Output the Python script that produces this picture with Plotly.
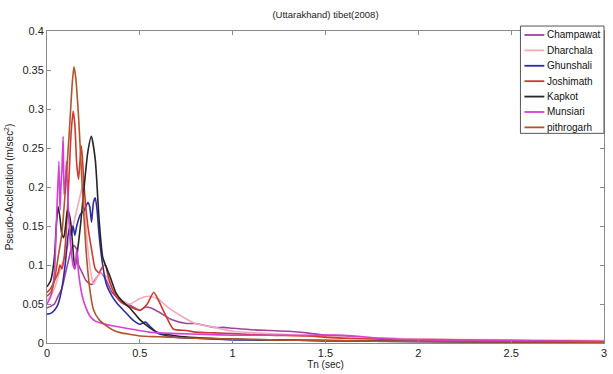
import plotly.graph_objects as go

# ---- data ----
champawat_T = [0, 0.02, 0.04, 0.06, 0.08, 0.1, 0.12, 0.13, 0.145, 0.16, 0.17, 0.19, 0.21, 0.24, 0.27, 0.29, 0.32, 0.35, 0.38, 0.42, 0.45, 0.5, 0.53, 0.56, 0.6, 0.67, 0.75, 0.8, 0.9, 0.95, 1.0, 1.1, 1.2, 1.3, 1.4, 1.5, 1.6, 1.7, 1.8, 2.0, 2.5, 3.0]
champawat_SA = [0.045, 0.047, 0.05, 0.06, 0.07, 0.09, 0.11, 0.12, 0.125, 0.12, 0.1, 0.09, 0.08, 0.075, 0.085, 0.09, 0.08, 0.065, 0.058, 0.052, 0.048, 0.042, 0.046, 0.045, 0.04, 0.03, 0.025, 0.025, 0.02, 0.02, 0.019, 0.017, 0.016, 0.015, 0.013, 0.01, 0.009, 0.007, 0.006, 0.005, 0.003, 0.002]

dharchala_T = [0, 0.02, 0.04, 0.06, 0.08, 0.1, 0.12, 0.14, 0.16, 0.18, 0.19, 0.2, 0.22, 0.24, 0.25, 0.27, 0.29, 0.32, 0.35, 0.38, 0.42, 0.45, 0.5, 0.55, 0.6, 0.65, 0.72, 0.8, 0.9, 1.0, 1.2, 1.5, 2.0, 2.5, 3.0]
dharchala_SA = [0.055, 0.06, 0.07, 0.085, 0.1, 0.115, 0.13, 0.15, 0.17, 0.19, 0.2, 0.18, 0.12, 0.085, 0.075, 0.085, 0.09, 0.085, 0.07, 0.06, 0.052, 0.05, 0.057, 0.06, 0.056, 0.046, 0.035, 0.025, 0.02, 0.015, 0.012, 0.008, 0.005, 0.004, 0.003]

ghunshali_T = [0, 0.02, 0.04, 0.06, 0.08, 0.1, 0.11, 0.12, 0.13, 0.14, 0.15, 0.16, 0.18, 0.2, 0.22, 0.23, 0.24, 0.25, 0.26, 0.27, 0.28, 0.3, 0.32, 0.35, 0.38, 0.42, 0.46, 0.5, 0.53, 0.56, 0.6, 0.65, 0.7, 0.8, 0.9, 1.0, 1.2, 1.5, 2.0, 2.5, 3.0]
ghunshali_SA = [0.037, 0.038, 0.042, 0.05, 0.07, 0.105, 0.13, 0.148, 0.138, 0.15, 0.138, 0.15, 0.165, 0.17, 0.18, 0.175, 0.155, 0.18, 0.186, 0.17, 0.14, 0.1, 0.075, 0.06, 0.05, 0.04, 0.03, 0.024, 0.027, 0.02, 0.012, 0.009, 0.007, 0.006, 0.005, 0.004, 0.004, 0.003, 0.002, 0.0015, 0.001]

joshimath_T = [0, 0.02, 0.04, 0.06, 0.07, 0.08, 0.09, 0.1, 0.11, 0.12, 0.13, 0.141, 0.15, 0.16, 0.17, 0.184, 0.19, 0.2, 0.22, 0.24, 0.26, 0.28, 0.3, 0.314, 0.33, 0.36, 0.4, 0.45, 0.5, 0.54, 0.575, 0.6, 0.64, 0.68, 0.75, 0.8, 0.9, 1.0, 1.2, 1.4, 1.6, 2.0, 2.5, 3.0]
joshimath_SA = [0.065, 0.07, 0.08, 0.09, 0.1, 0.095, 0.105, 0.13, 0.17, 0.22, 0.27, 0.297, 0.28, 0.23, 0.21, 0.253, 0.24, 0.2, 0.15, 0.12, 0.095, 0.09, 0.098, 0.1, 0.085, 0.065, 0.052, 0.046, 0.042, 0.05, 0.065, 0.055, 0.035, 0.018, 0.016, 0.014, 0.013, 0.012, 0.01, 0.009, 0.006, 0.004, 0.003, 0.002]

kapkot_T = [0, 0.02, 0.04, 0.05, 0.06, 0.07, 0.08, 0.09, 0.1, 0.11, 0.12, 0.13, 0.14, 0.15, 0.16, 0.18, 0.2, 0.22, 0.239, 0.26, 0.28, 0.3, 0.32, 0.34, 0.37, 0.4, 0.45, 0.5, 0.55, 0.6, 0.7, 0.8, 1.0, 1.2, 1.5, 2.0, 2.5, 3.0]
kapkot_SA = [0.072, 0.08, 0.11, 0.15, 0.175, 0.16, 0.14, 0.135, 0.15, 0.17, 0.165, 0.15, 0.12, 0.095, 0.11, 0.15, 0.2, 0.245, 0.265, 0.235, 0.16, 0.11, 0.097, 0.085, 0.065, 0.055, 0.044, 0.03, 0.02, 0.013, 0.009, 0.007, 0.005, 0.004, 0.003, 0.002, 0.0015, 0.001]

munsiari_T = [0, 0.02, 0.04, 0.05, 0.064, 0.07, 0.075, 0.08, 0.087, 0.092, 0.097, 0.105, 0.11, 0.12, 0.13, 0.14, 0.15, 0.16, 0.17, 0.19, 0.21, 0.23, 0.26, 0.3, 0.35, 0.45, 0.55, 0.7, 0.85, 1.0, 1.2, 1.4, 1.6, 1.8, 2.0, 2.5, 3.0]
munsiari_SA = [0.05, 0.06, 0.09, 0.15, 0.233, 0.17, 0.2, 0.22, 0.265, 0.19, 0.2, 0.233, 0.2, 0.15, 0.12, 0.1, 0.095, 0.12, 0.09, 0.06, 0.045, 0.035, 0.028, 0.025, 0.022, 0.018, 0.014, 0.012, 0.011, 0.01, 0.01, 0.01, 0.01, 0.006, 0.004, 0.003, 0.002]

pithrogarh_T = [0, 0.02, 0.04, 0.06, 0.08, 0.1, 0.12, 0.135, 0.145, 0.155, 0.17, 0.19, 0.21, 0.23, 0.25, 0.28, 0.32, 0.36, 0.4, 0.45, 0.5, 0.6, 0.7, 0.8, 1.0, 1.2, 1.5, 2.0, 2.5, 3.0]
pithrogarh_SA = [0.06, 0.065, 0.08, 0.11, 0.14, 0.2, 0.27, 0.33, 0.354, 0.34, 0.29, 0.2, 0.12, 0.07, 0.043, 0.03, 0.022, 0.016, 0.013, 0.011, 0.009, 0.008, 0.007, 0.006, 0.005, 0.004, 0.003, 0.002, 0.0015, 0.001]

names = ["Champawat", "Dharchala", "Ghunshali", "Joshimath", "Kapkot", "Munsiari", "pithrogarh"]
series = [
    (champawat_T, champawat_SA),
    (dharchala_T, dharchala_SA),
    (ghunshali_T, ghunshali_SA),
    (joshimath_T, joshimath_SA),
    (kapkot_T, kapkot_SA),
    (munsiari_T, munsiari_SA),
    (pithrogarh_T, pithrogarh_SA),
]
colors = ["#a2449c", "#f3aabb", "#2c2ca6", "#cf3a2e", "#262626", "#d83ed8", "#b4542c"]

x_ticks = [0, 0.5, 1, 1.5, 2, 2.5, 3]
x_labels = ["0", "0.5", "1", "1.5", "2", "2.5", "3"]
y_ticks = [0, 0.05, 0.1, 0.15, 0.2, 0.25, 0.3, 0.35, 0.4]
y_labels = ["0", "0.05", "0.1", "0.15", "0.2", "0.25", "0.3", "0.35", "0.4"]

FONT = "Liberation Sans, Arial"

fig = go.Figure()
for name, (t, sa), c in zip(names, series, colors):
    fig.add_trace(go.Scatter(x=t, y=sa, name=name, mode="lines",
                             line=dict(color=c, width=1.6, shape="spline", smoothing=0.6)))

axis_common = dict(showline=True, linecolor="#8a8a8a", linewidth=1, mirror="ticks",
                   ticks="inside", ticklen=4, tickcolor="#8a8a8a", showgrid=False,
                   zeroline=False, tickfont=dict(family=FONT, size=11, color="#222"))

# compact legend box (MATLAB style), laid out in paper coordinates
PLOT_L, PLOT_R, PLOT_T, PLOT_B = 47, 607, 31, 345
def px(x):
    return (x - PLOT_L) / (PLOT_R - PLOT_L)
def py(y):
    return (PLOT_B - y) / (PLOT_B - PLOT_T)

shapes = [dict(type="rect", xref="paper", yref="paper",
               x0=px(523), x1=px(607), y0=py(134), y1=py(26),
               line=dict(color="#555", width=1), fillcolor="white", layer="above")]
annotations = []
for i, (name, c) in enumerate(zip(names, colors)):
    yc = 35 + i * 15.5
    shapes.append(dict(type="line", xref="paper", yref="paper",
                       x0=px(527), x1=px(547), y0=py(yc), y1=py(yc),
                       line=dict(color=c, width=1.8), layer="above"))
    annotations.append(dict(text=name, xref="paper", yref="paper", x=px(548), y=py(yc),
                            xanchor="left", yanchor="middle", showarrow=False,
                            font=dict(family=FONT, size=10, color="#111")))

fig.update_layout(
    width=613, height=374,
    margin=dict(l=PLOT_L, r=613 - PLOT_R, t=PLOT_T, b=374 - PLOT_B),
    paper_bgcolor="white", plot_bgcolor="white",
    title=dict(text="(Uttarakhand) tibet(2008)", x=0.5, xanchor="center", y=0.96, yanchor="middle",
               xref="paper", font=dict(family=FONT, size=9.5, color="#222")),
    xaxis=dict(range=[0, 3], tickvals=x_ticks, ticktext=x_labels,
               title=dict(text="Tn (sec)", standoff=2, font=dict(family=FONT, size=10, color="#222")),
               **axis_common),
    yaxis=dict(range=[0, 0.4], tickvals=y_ticks, ticktext=y_labels,
               title=dict(text="Pseudo-Accleration (m/sec<sup>2</sup>)", standoff=6,
                          font=dict(family=FONT, size=10, color="#222")),
               **axis_common),
    shapes=shapes,
    annotations=annotations,
    showlegend=False,
)

fig.write_html("out.html")
